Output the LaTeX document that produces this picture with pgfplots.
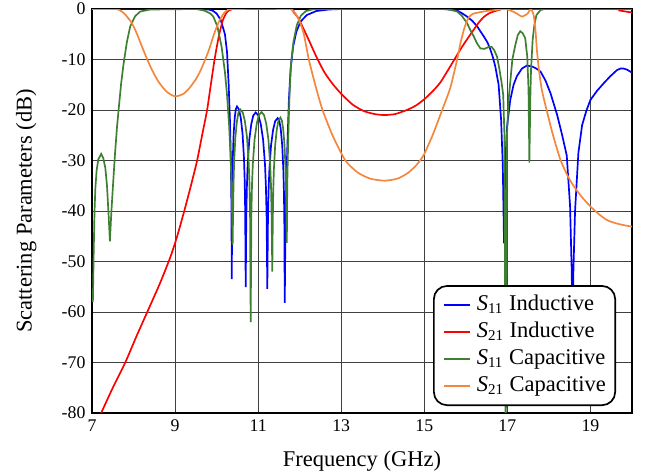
\documentclass[border=0pt]{standalone}
\usepackage{fontspec}
\setmainfont{Liberation Serif}
\usepackage{pgfplots}
\pgfplotsset{compat=1.18}
\definecolor{sblue}{RGB}{0,0,255}
\definecolor{sred}{RGB}{255,0,0}
\definecolor{sgreen}{RGB}{61,128,50}
\definecolor{sorange}{RGB}{245,135,60}
\begin{document}
\begin{tikzpicture}
\path[use as bounding box] (-49.1pt,-33.1pt) rectangle (295.5pt,220.3pt);
\begin{axis}[
  at={(0,0)}, anchor=south west,
  scale only axis, width=288pt, height=215.5pt,
  xmin=7, xmax=20, ymin=-80, ymax=0,
  xtick={7,9,...,19}, ytick={-80,-70,...,0},
  grid=major, major grid style={black!75, line width=0.5pt},
  axis line style={line width=1pt},
  tick style={draw=none},
  /pgf/number format/assume math mode=true,
  tick label style={font=\fontsize{9.5}{11}\selectfont},
  label style={font=\fontsize{12}{14}\selectfont},
  xlabel={Frequency (GHz)}, ylabel={Scattering Parameters (dB)},
  xlabel style={at={(axis description cs:0.5,-0.1336)}, anchor=base, inner sep=0pt},
  ylabel style={at={(axis description cs:-0.112,0.5)}, anchor=base, inner sep=0pt},
  legend cell align=left,
  legend style={at={(axis description cs:0.9705,0.0172)}, anchor=south east,
    draw=black, line width=0.9pt, rounded corners=7pt,
    font=\fontsize{12}{14}\selectfont,
    inner xsep=5pt, inner ysep=4.5pt, row sep=3pt, column sep=3pt,
    nodes={inner sep=0pt, text height=8.6pt, text depth=2.8pt}},
  legend image code/.code={\draw[#1] (0pt,0pt) -- (14pt,0pt);},
]
\addplot[sblue, line width=0.9pt] coordinates {
(7,0) (9.6,0) (9.8,-0.1) (9.9,-0.3) (10.0,-0.9) (10.1,-2.2) (10.2,-5) (10.25,-8.5) (10.29,-15) (10.32,-22) (10.34,-29) (10.355,-38) (10.365,-53.5)
(10.3725,-39.8) (10.38,-33.8) (10.39,-29.5) (10.41,-24.7) (10.435,-21.6) (10.46,-19.9) (10.49,-19.3) (10.54,-19.9) (10.582,-21.6) (10.624,-24.7) (10.658,-29.5) (10.675,-33.8) (10.687,-39.8) (10.70,-55.1)
(10.714,-41.0) (10.729,-35.0) (10.748,-30.7) (10.786,-25.9) (10.834,-22.8) (10.882,-21.1) (10.94,-20.5) (11.007,-21.1) (11.063,-22.8) (11.119,-25.9) (11.164,-30.7) (11.186,-35.0) (11.203,-41.0) (11.22,-55.4)
(11.235,-42.1) (11.25,-36.1) (11.27,-31.8) (11.31,-27.0) (11.36,-23.9) (11.41,-22.2) (11.47,-21.6) (11.511,-22.2) (11.545,-23.9) (11.579,-27.0) (11.606,-31.8) (11.62,-36.1) (11.63,-42.1) (11.64,-58.2)
(11.655,-45) (11.675,-36) (11.70,-28) (11.74,-18) (11.78,-12) (11.84,-7.5) (11.92,-4.5) (12.02,-2.5) (12.17,-1.2) (12.4,-0.4) (12.7,-0.1) (13,0) (15.5,0) (15.79,-0.3) (15.9,-0.8) (16.03,-1.5) (16.15,-2.3) (16.27,-3.4) (16.43,-5.4) (16.52,-6.6) (16.59,-8) (16.65,-9.5) (16.71,-11.4) (16.79,-15) (16.85,-22) (16.89,-31) (16.92,-46.4) (16.95,-31) (16.99,-23.5) (17.07,-18) (17.15,-15) (17.23,-13.3) (17.35,-11.8) (17.47,-11.2) (17.6,-11.4) (17.7,-11.8) (17.8,-12.4) (17.92,-14.2) (18.04,-16.7) (18.2,-21) (18.32,-25) (18.43,-29) (18.51,-39) (18.55,-52) (18.57,-65) (18.59,-52) (18.63,-40) (18.71,-28.5) (18.8,-23) (18.9,-20.2) (19.0,-18) (19.16,-16.2) (19.32,-14.7) (19.48,-13.3) (19.64,-12.1) (19.72,-11.8) (19.8,-11.8) (19.88,-12) (19.96,-12.4) (20,-12.6)
};
\addlegendentry{\textit{S}\textsubscript{11} Inductive}
\addplot[sred, line width=0.9pt, smooth, tension=0.4] coordinates {
(7.22,-80) (7.5,-75) (7.8,-70) (8.06,-65) (8.33,-60) (8.6,-55) (8.75,-52) (8.9,-48.8) (9.05,-45) (9.22,-40) (9.38,-35) (9.53,-30) (9.65,-25) (9.77,-20) (9.86,-15) (9.95,-10) (10.05,-5.5) (10.15,-2.2) (10.25,-0.6) (10.35,-0.1) (10.45,0) (11.75,0) (11.85,-0.6) (11.95,-1.6) (12.05,-3.2) (12.2,-5.8) (12.41,-9.6) (12.6,-12.6) (12.8,-14.9) (13.0,-16.8) (13.27,-18.9) (13.54,-20.2) (13.8,-20.8) (14.04,-21) (14.3,-20.8) (14.58,-20) (14.8,-19.1) (15.01,-17.8) (15.2,-16.3) (15.39,-14.5) (15.63,-11.3) (15.87,-8) (16.03,-6) (16.19,-4.1) (16.3,-2.8) (16.43,-1.6) (16.55,-0.9) (16.67,-0.5) (16.8,-0.2) (16.95,0) (19.5,0) (19.7,-0.3) (19.85,-0.5) (20,-0.7)
};
\addlegendentry{\textit{S}\textsubscript{21} Inductive}
\addplot[sgreen, line width=0.9pt] coordinates {
(7.02,-58) (7.04,-48) (7.06,-40) (7.08,-35.5) (7.11,-32) (7.15,-29.8) (7.22,-28.7) (7.27,-29.5) (7.32,-31.5) (7.36,-35) (7.40,-41) (7.43,-46) (7.46,-41) (7.50,-35.5) (7.55,-29) (7.60,-23.5) (7.64,-19.9) (7.70,-14.8) (7.76,-10.8) (7.84,-6.5) (7.92,-3.4) (8.04,-1.4) (8.16,-0.5) (8.4,-0.1) (9.5,0) (9.7,-0.3) (9.85,-0.9) (9.92,-1.5) (10.02,-3.5) (10.12,-7.5) (10.2,-12.5) (10.25,-17) (10.3,-23) (10.34,-30) (10.365,-37) (10.385,-46.7)
(10.396,-40.4) (10.407,-34.4) (10.422,-30.1) (10.452,-25.3) (10.489,-22.2) (10.526,-20.5) (10.57,-19.9) (10.63,-20.5) (10.68,-22.2) (10.73,-25.3) (10.77,-30.1) (10.79,-34.4) (10.805,-40.4) (10.82,-62)
(10.836,-40.9) (10.851,-34.9) (10.872,-30.6) (10.914,-25.8) (10.966,-22.7) (11.018,-21.0) (11.08,-20.4) (11.142,-21.0) (11.194,-22.7) (11.246,-25.8) (11.288,-30.6) (11.309,-34.9) (11.324,-40.9) (11.34,-52)
(11.352,-42.0) (11.363,-36.0) (11.379,-31.7) (11.41,-26.9) (11.449,-23.8) (11.488,-22.1) (11.535,-21.5) (11.572,-22.1) (11.603,-23.8) (11.634,-26.9) (11.659,-31.7) (11.671,-36.0) (11.681,-42.0) (11.69,-46.3)
(11.70,-35) (11.72,-27) (11.75,-18) (11.79,-11) (11.85,-6.5) (11.93,-3.2) (12.03,-1.3) (12.15,-0.4) (12.35,0) (15.4,0) (15.6,-0.1) (15.79,-0.5) (15.9,-1.3) (16.03,-2.8) (16.11,-4.2) (16.19,-5.4) (16.27,-6.8) (16.35,-7.8) (16.45,-7.9) (16.55,-7.5) (16.62,-7.5) (16.68,-8.1) (16.75,-9.4) (16.8,-11.5) (16.86,-14.5) (16.9,-17) (16.93,-25) (16.96,-90) (16.99,-25) (17.03,-18) (17.07,-14.5) (17.12,-10) (17.19,-7.2) (17.25,-5.2) (17.31,-4.4) (17.37,-4.8) (17.43,-5.8) (17.48,-9.5) (17.51,-16) (17.53,-30.4) (17.555,-17) (17.57,-12) (17.61,-6) (17.65,-3.2) (17.7,-1.2) (17.8,-0.2) (17.9,0) (20,0)
};
\addlegendentry{\textit{S}\textsubscript{11} Capacitive}
\addplot[sorange, line width=0.9pt, smooth, tension=0.4] coordinates {
(7,0) (7.55,0) (7.68,-0.3) (7.8,-1.1) (7.96,-2.8) (8.08,-4.9) (8.2,-7.4) (8.32,-9.8) (8.44,-12) (8.6,-14.4) (8.8,-16.4) (9.0,-17.3) (9.2,-16.8) (9.35,-15.6) (9.5,-13.9) (9.6,-12.4) (9.7,-10.5) (9.81,-8.2) (9.92,-5.4) (10.0,-3.6) (10.08,-2.1) (10.17,-0.9) (10.25,-0.3) (10.4,0) (11.7,0) (11.82,-0.3) (11.9,-0.9) (12.0,-2.5) (12.1,-5) (12.22,-10) (12.38,-15.2) (12.55,-20) (12.8,-25.2) (13.1,-30) (13.4,-32.4) (13.7,-33.6) (14.04,-34) (14.35,-33.6) (14.6,-32.5) (14.8,-31) (14.98,-29) (15.2,-25) (15.43,-20) (15.63,-15.5) (15.79,-10) (15.87,-6.8) (15.95,-4.2) (16.03,-2.3) (16.1,-1.4) (16.19,-0.9) (16.5,-0.4) (16.83,-0.1) (16.95,0) (17.08,-0.3) (17.23,-0.9) (17.35,-1.5) (17.49,-0.9) (17.55,-0.1) (17.6,-0.4) (17.64,-1.5) (17.68,-4.5) (17.71,-8) (17.76,-12) (17.83,-16) (17.96,-20.5) (18.1,-25) (18.28,-29.9) (18.45,-33) (18.6,-35.1) (18.8,-37.3) (19.0,-39.1) (19.2,-40.6) (19.4,-41.8) (19.6,-42.4) (19.8,-42.8) (20,-43.1)
};
\addlegendentry{\textit{S}\textsubscript{21} Capacitive}
\end{axis}
\end{tikzpicture}
\end{document}
